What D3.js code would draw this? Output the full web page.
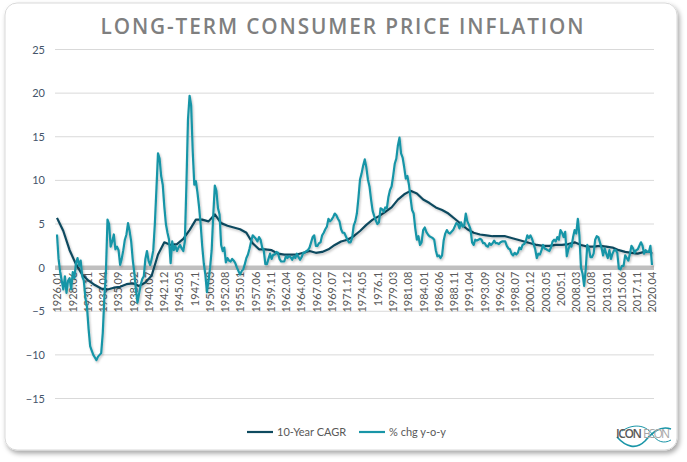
<!DOCTYPE html>
<html><head><meta charset="utf-8">
<script src="https://cdn.jsdelivr.net/npm/d3@7"></script>
<style>html,body{margin:0;padding:0;background:#fff;} svg{display:block}</style>
</head><body><svg id="c" width="687" height="462"></svg>
<script>
// ---- DATA ----
const tickLabels = ["1926.01","1928.06","1930.11","1933.04","1935.09","1938.02","1940.07","1942.12","1945.05","1947.1",
  "1950.03","1952.08","1955.01","1957.06","1959.11","1962.04","1964.09","1967.02","1969.07","1971.12",
  "1974.05","1976.1","1979.03","1981.08","1984.01","1986.06","1988.11","1991.04","1993.09","1996.02",
  "1998.07","2000.12","2003.05","2005.1","2008.03","2010.08","2013.01","2015.06","2017.11","2020.04"];
const yTicks = [25,20,15,10,5,0,-5,-10,-15];
const seriesNames = ["10-Year CAGR","% chg y-o-y"];

// % chg y-o-y, quarterly (Jan, Apr, Jul, Oct), 1926-1949
const yoy1926 = [
  3.8, 1.0, -0.5, -1.5,   -2.5, -1.0, -2.9, -1.5,   -1.2, -2.5, -0.5, -1.2,   0.5, 1.1, 0.2, 0.8,
  -1.0, -1.5, -3.5, -4.5,   -7.0, -9.0, -9.5, -10.0,   -10.3, -10.6, -10.2, -10.0,   -9.8, -7.5, -3.5, -0.5,
  5.5, 5.0, 2.4, 3.0,   3.8, 2.1, 2.4, 2.0,   0.3, 1.0, 2.0, 3.2,   3.8, 5.1, 4.2, 3.0,
  0.9, -0.6, -2.5, -4.0,   -3.0, -2.0, -1.3, -1.0,   1.0, 1.9, 0.8, 0.3,   1.0, 2.0, 5.0, 9.0,
  13.1, 12.5, 10.5, 9.5,   7.0, 5.0, 4.0, 3.2,   0.5, 3.0, 2.0, 2.5,   1.9, 2.3, 2.6, 2.2,
  1.9, 3.0, 9.5, 17.0,   19.7, 18.6, 13.3, 9.5,   9.9, 8.6, 7.0, 5.0,   2.5, 0.5, -0.8, -2.8
];
// 1950-1979
const yoy1950 = [
  -1.5, 0.0, 2.0, 6.0,   9.4, 8.8, 6.8, 6.1,   2.6, 1.9, 2.3, 0.6,   1.1, 0.8, 0.7, 1.0,
  0.8, 0.5, 0.0, -0.4,   -0.8, -0.4, -0.2, 0.4,   1.1, 1.5, 2.2, 3.0,   3.7, 3.5, 3.3, 3.0,
  3.5, 3.2, 2.3, 2.0,   0.4, 0.4, 1.0, 1.6,   1.0, 1.5, 1.5, 1.8,   1.7, 1.0, 0.7, 0.7,
  0.7, 1.3, 1.1, 1.3,   1.2, 0.9, 1.3, 1.1,   1.6, 1.2, 0.9, 1.2,   1.7, 1.7, 1.9, 2.0,
  2.3, 2.9, 3.5, 3.7,   2.5, 2.5, 2.8, 2.9,   3.7, 4.0, 4.4, 4.7,   5.6, 5.3, 5.5, 5.8,
  6.2, 6.0, 5.6, 5.3,   4.4, 4.0, 4.0, 3.6,   3.2, 2.9, 2.9, 3.4,   4.8, 5.3, 6.2, 8.0,
  10.1, 10.8, 11.7, 12.4,   11.5, 10.1, 9.3, 7.8,   6.5, 5.9, 5.4, 5.0,   5.2, 6.8, 6.7, 6.4,
  6.9, 6.8, 8.1, 8.9,   9.3, 10.5, 11.9, 12.5
];
// 1980-2020.04
const yoy1980 = [
  14.0, 14.9, 13.1, 12.6,   11.5, 10.2, 10.5, 9.5,   8.0, 6.6, 6.2, 4.5,   3.2, 3.6, 2.6, 2.9,
  4.3, 4.6, 4.1, 3.8,   3.6, 3.5, 3.4, 3.2,   2.0, 1.3, 1.4, 1.1,   1.4, 3.1, 3.9, 4.3,
  4.0, 3.9, 4.1, 4.3,   4.7, 5.1, 5.0, 4.5,   5.2, 4.7, 4.8, 6.2,   5.3, 4.9, 4.4, 2.9,
  2.6, 3.2, 3.1, 3.2,   3.3, 3.2, 2.8, 2.8,   2.5, 2.4, 2.8, 2.6,   2.8, 3.1, 2.8, 2.8,
  2.7, 2.9, 3.0, 3.0,   3.0, 2.5, 2.2, 2.1,   1.6, 1.4, 1.7, 1.5,   1.7, 2.3, 2.1, 2.6,
  2.7, 3.0, 3.7, 3.4,   3.7, 3.3, 2.7, 2.1,   1.1, 1.6, 1.5, 2.0,   2.6, 2.2, 2.1, 2.0,
  1.9, 2.3, 3.0, 3.2,   3.0, 3.5, 3.2, 4.3,   4.0, 3.5, 4.1, 1.3,   2.1, 2.6, 2.4, 3.5,
  4.3, 3.9, 5.6, 3.7,   0.0, -0.7, -2.1, -0.2,   2.6, 2.2, 1.2, 1.2,   1.6, 3.2, 3.6, 3.5,
  2.9, 2.3, 1.4, 2.2,   1.6, 1.1, 2.0, 1.0,   1.6, 2.0, 2.0, 1.7,   -0.1, -0.2, 0.2, 0.2,
  1.4, 1.1, 0.8, 1.6,   2.5, 2.2, 1.7, 2.0,   2.1, 2.5, 2.9, 2.5,   1.6, 2.0, 1.8, 1.8,
  2.5, 0.3
];
// 10-Year CAGR, January of each year 1926-2020, then April 2020
const cagr1926 = [5.7, 4.2, 2.0, 0.4, -0.8, -1.5, -2.0, -2.4, -2.5, -2.3,
                  -2.2, -1.9, -1.8, -2.1, -1.7, -0.9, 1.5, 2.9, 2.6, 2.7,
                  3.3, 4.3, 5.5, 5.5, 5.3, 6.1, 5.1, 4.8, 4.6, 4.4,
                  4.0, 2.8, 2.1, 2.1, 2.0, 1.6, 1.5, 1.5, 1.5, 1.7,
                  1.9, 1.7, 1.8, 2.1, 2.6, 3.0, 3.2, 3.6, 4.2, 4.9];
const cagr1976 = [5.5, 5.9, 6.4, 6.9, 7.8, 8.4, 8.8, 8.5, 7.8, 7.4,
                  6.9, 6.6, 6.2, 5.6, 5.0, 4.4, 4.0, 3.8, 3.7, 3.6,
                  3.6, 3.6, 3.4, 3.2, 3.0, 2.8, 2.6, 2.5, 2.5, 2.6,
                  2.6, 2.7, 2.9, 2.6, 2.4, 2.4, 2.5, 2.4, 2.3, 2.0,
                  1.8, 1.7, 1.6, 1.8, 1.8, 1.6];

// ---- CHART ----
const svg = d3.select("#c");
const defs = svg.append("defs");
const f = defs.append("filter").attr("id","card").attr("x","-5%").attr("y","-5%").attr("width","110%").attr("height","112%");
f.append("feDropShadow").attr("dx",2).attr("dy",3).attr("stdDeviation",2.5).attr("flood-color","#000").attr("flood-opacity",0.35);
const fl = defs.append("filter").attr("id","ls").attr("x","-5%").attr("y","-5%").attr("width","110%").attr("height","110%");
fl.append("feDropShadow").attr("dx",1).attr("dy",1.5).attr("stdDeviation",1).attr("flood-color","#000").attr("flood-opacity",0.25);

svg.append("rect").attr("x",5).attr("y",3).attr("width",672).attr("height",447).attr("rx",12)
  .attr("fill","#fff").attr("stroke","#d9d9d9").attr("stroke-width",1).attr("filter","url(#card)");

svg.append("text").attr("x",343).attr("y",34).attr("text-anchor","middle")
  .attr("font-family","'Open Sans', sans-serif").attr("font-weight",600).attr("font-size",22)
  .attr("letter-spacing",2)
  .attr("fill","#7f7f7f").attr("textLength",485).attr("lengthAdjust","spacingAndGlyphs")
  .text("LONG-TERM CONSUMER PRICE INFLATION");

const lastMonth = (2020-1926)*12 + 3;
const x = d3.scaleLinear().domain([0, lastMonth]).range([57, 652]);
const y = d3.scaleLinear().domain([-15, 25]).range([398.5, 49.5]);

// gridlines
svg.append("g").selectAll("line").data(yTicks.filter(d=>d!==0)).join("line")
  .attr("x1",55).attr("x2",654).attr("y1",d=>y(d)).attr("y2",d=>y(d))
  .attr("stroke","#d9d9d9").attr("stroke-width",1);

// y axis
const ya = svg.append("g").attr("transform","translate(47,0)")
  .call(d3.axisLeft(y).tickValues(yTicks).tickSize(0).tickPadding(2).tickFormat(d3.format("d")));
ya.select(".domain").remove();
ya.selectAll("text").attr("font-family","Lato, 'Open Sans', sans-serif").attr("font-size",11).attr("fill","#44546a");

// zero line
svg.append("line").attr("x1",55).attr("x2",654).attr("y1",y(0)).attr("y2",y(0))
  .attr("stroke","#bfbfbf").attr("stroke-width",4.5);

// x axis (category labels)
const tickMonths = tickLabels.map(s => { const p = s.split("."); return (+p[0]-1926)*12 + (+p[1].padEnd(2,"0")) - 1; });
const xa = svg.append("g").attr("transform",`translate(0,${y(0)+3})`)
  .call(d3.axisBottom(x).tickValues(tickMonths).tickSize(0).tickFormat((d,i)=>tickLabels[i]));
xa.select(".domain").remove();
xa.selectAll("text").attr("font-family","Lato, 'Open Sans', sans-serif").attr("font-size",11).attr("fill","#595959")
  .attr("text-anchor","end").attr("transform","rotate(-90)").attr("x",-1).attr("y",0).attr("dy","0.35em");

// series
const yoyVals = yoy1926.concat(yoy1950, yoy1980);
const yoy = yoyVals.map((v,i)=>({m:i*3, v}));
const cagrVals = cagr1926.concat(cagr1976);
const cagr = cagrVals.map((v,i)=>({m: i < cagrVals.length-1 ? i*12 : lastMonth, v}));

const line = d3.line().x(d=>x(d.m)).y(d=>y(d.v));
const colors = ["#0e4a5f","#1995a7"];
svg.append("path").datum(cagr).attr("d",line).attr("fill","none").attr("stroke",colors[0])
  .attr("stroke-width",2.2).attr("stroke-linejoin","round").attr("filter","url(#ls)");
svg.append("path").datum(yoy).attr("d",line).attr("fill","none").attr("stroke",colors[1])
  .attr("stroke-width",2.2).attr("stroke-linejoin","round").attr("filter","url(#ls)");

// legend
const lg = svg.append("g");
[[247,277],[359,389]].forEach((p,i)=>{
  lg.append("line").attr("x1",p[0]).attr("x2",p[0]+26).attr("y1",432).attr("y2",432)
    .attr("stroke",colors[i]).attr("stroke-width",2.2);
  lg.append("text").attr("x",p[1]).attr("y",436).attr("font-family","Lato, 'Open Sans', sans-serif")
    .attr("font-size",11).attr("fill","#595959").text(seriesNames[i]);
});

// logo
const logo = svg.append("g");
logo.append("path").attr("d","M617,437 C626,447 636,450 645,441 C652,433 660,425 671,429")
  .attr("fill","none").attr("stroke","#1995a7").attr("stroke-width",1.6);
logo.append("path").attr("d","M622,431 C632,424 645,424 652,434 C657,442 664,444 671,440")
  .attr("fill","none").attr("stroke","#1995a7").attr("stroke-width",1);
logo.append("text").attr("x",616).attr("y",438).attr("font-family","'Open Sans', sans-serif")
  .attr("font-size",12).attr("font-weight",600).attr("fill","#595959").attr("textLength",26).text("ICON");
logo.append("text").attr("x",643).attr("y",438).attr("font-family","'Open Sans', sans-serif")
  .attr("font-size",12).attr("fill","#a6a6a6").attr("textLength",27).text("ECON");
</script></body></html>
